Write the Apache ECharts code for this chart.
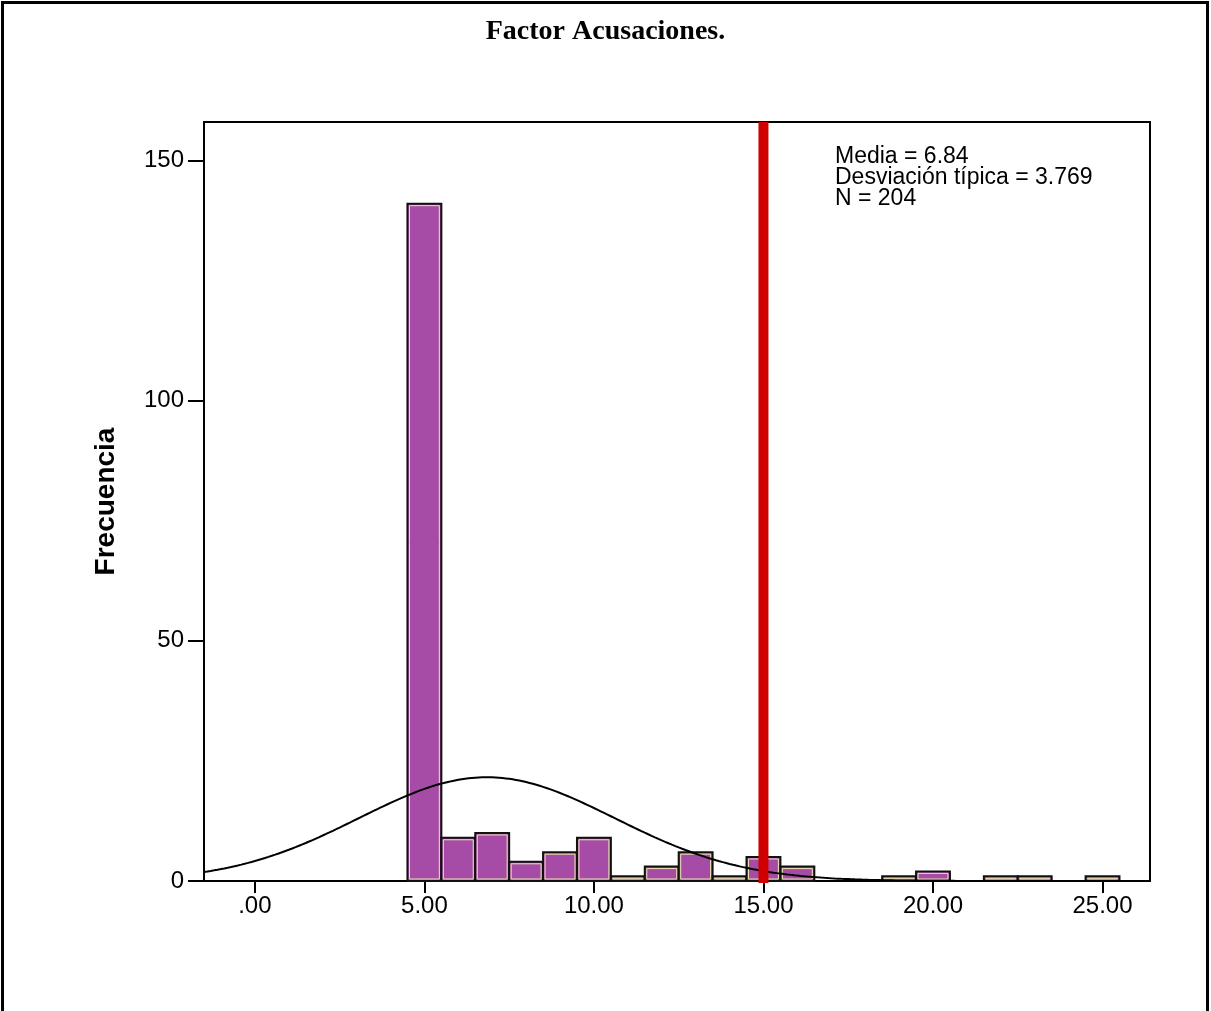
<!DOCTYPE html>
<html>
<head>
<meta charset="utf-8">
<title>Factor Acusaciones</title>
<script src="https://cdn.jsdelivr.net/npm/echarts@6/dist/echarts.min.js"></script>
<style>
  html, body { margin: 0; padding: 0; background: #fff; }
  #chart { width: 1211px; height: 1011px; }
</style>
</head>
<body>
<div id="chart"></div>
<script>
// Histogram bins (lower edge of each 1-point bin) and their frequencies
const binStarts = [4.5, 5.5, 6.5, 7.5, 8.5, 9.5, 10.5, 11.5, 12.5, 13.5, 14.5, 15.5, 18.5, 19.5, 21.5, 22.5, 24.5];
const binCounts = [141, 9, 10, 4, 6, 9, 1, 3, 6, 1, 5, 3, 1, 2, 1, 1, 1];
const binWidth = 1;

// Summary statistics shown in the legend box
const media = 6.84;
const desviacion = 3.769;
const nTotal = 204;

// Reference cut-off line
const cutOff = 15;

// Axis tick values
const xTicks = [0, 5, 10, 15, 20, 25];
const yTicks = [0, 50, 100, 150];

// Fitted normal curve scaled to the histogram (N * binWidth * density)
const curveX = [];
for (let x = -1.5; x <= 26.5; x += 0.1) curveX.push(+x.toFixed(2));
const curveData = curveX.map(x => {
  const z = (x - media) / desviacion;
  return [x, nTotal * binWidth * Math.exp(-0.5 * z * z) / (desviacion * Math.sqrt(2 * Math.PI))];
});

const barData = binStarts.map((s, i) => [s, s + binWidth, binCounts[i]]);

const chart = echarts.init(document.getElementById('chart'), null, { renderer: 'canvas' });

chart.setOption({
  backgroundColor: '#ffffff',
  animation: false,
  title: {
    text: 'Factor Acusaciones.',
    left: 'center',
    top: 13,
    textStyle: { fontFamily: 'Liberation Serif', fontWeight: 'bold', fontSize: 28, color: '#000' }
  },
  graphic: [
    {
      type: 'rect',
      shape: { x: 2.5, y: 2.5, width: 1205, height: 1030 },
      style: { fill: 'none', stroke: '#000', lineWidth: 3 },
      silent: true
    },
    {
      type: 'text',
      left: 835,
      top: 145,
      style: {
        text: 'Media = ' + media.toFixed(2) + '\nDesviación típica = ' + desviacion.toFixed(3) + '\nN = ' + nTotal,
        font: '23px "Liberation Sans", Arial, sans-serif',
        lineHeight: 21,
        fill: '#000'
      }
    }
  ],
  grid: {
    left: 204, right: 61, top: 122, bottom: 130,
    show: true, borderColor: '#000', borderWidth: 2, backgroundColor: 'transparent'
  },
  xAxis: {
    type: 'value',
    min: -1.5,
    max: 26.4,
    splitLine: { show: false },
    axisLine: { show: true, onZero: false, lineStyle: { color: '#000', width: 2 } },
    axisTick: { show: true, length: 12, customValues: xTicks, lineStyle: { color: '#000', width: 2 } },
    axisLabel: {
      customValues: xTicks,
      margin: 13,
      fontFamily: 'Liberation Sans',
      fontSize: 24,
      color: '#000',
      formatter: v => (v === 0 ? '.00' : v.toFixed(2))
    }
  },
  yAxis: {
    type: 'value',
    min: 0,
    max: 158,
    name: 'Frecuencia',
    nameLocation: 'middle',
    nameGap: 84,
    nameRotate: 90,
    nameTextStyle: { fontFamily: 'Liberation Sans', fontWeight: 'bold', fontSize: 28, color: '#000' },
    splitLine: { show: false },
    axisLine: { show: true, onZero: false, lineStyle: { color: '#000', width: 2 } },
    axisTick: { show: true, length: 16, customValues: yTicks, lineStyle: { color: '#000', width: 2 } },
    axisLabel: {
      customValues: yTicks,
      margin: 20,
      fontFamily: 'Liberation Sans',
      fontSize: 24,
      color: '#000'
    }
  },
  series: [
    {
      type: 'custom',
      name: 'Frecuencia',
      data: barData,
      encode: { x: [0, 1], y: 2 },
      z: 2,
      renderItem: function (params, api) {
        const top = api.coord([api.value(0), api.value(2)]);
        const bot = api.coord([api.value(1), 0]);
        const w = bot[0] - top[0];
        const h = bot[1] - top[1];
        return {
          type: 'group',
          children: [
            {
              type: 'rect',
              shape: { x: top[0], y: top[1], width: w, height: h },
              style: { fill: '#a64ca6', stroke: '#111', lineWidth: 2 }
            },
            {
              type: 'rect',
              shape: { x: top[0] + 2, y: top[1] + 2, width: Math.max(w - 4, 0), height: Math.max(h - 4, 0) },
              style: { fill: 'none', stroke: '#ece3b0', lineWidth: 1 }
            }
          ]
        };
      }
    },
    {
      type: 'line',
      name: 'Normal',
      data: curveData,
      showSymbol: false,
      smooth: false,
      z: 3,
      lineStyle: { color: '#000', width: 2 }
    },
    {
      type: 'line',
      name: 'Corte',
      data: [[cutOff, 158], [cutOff, -0.4]],
      showSymbol: false,
      clip: false,
      z: 4,
      lineStyle: { color: '#d00000', width: 10, cap: 'butt' }
    }
  ]
});
</script>
</body>
</html>
